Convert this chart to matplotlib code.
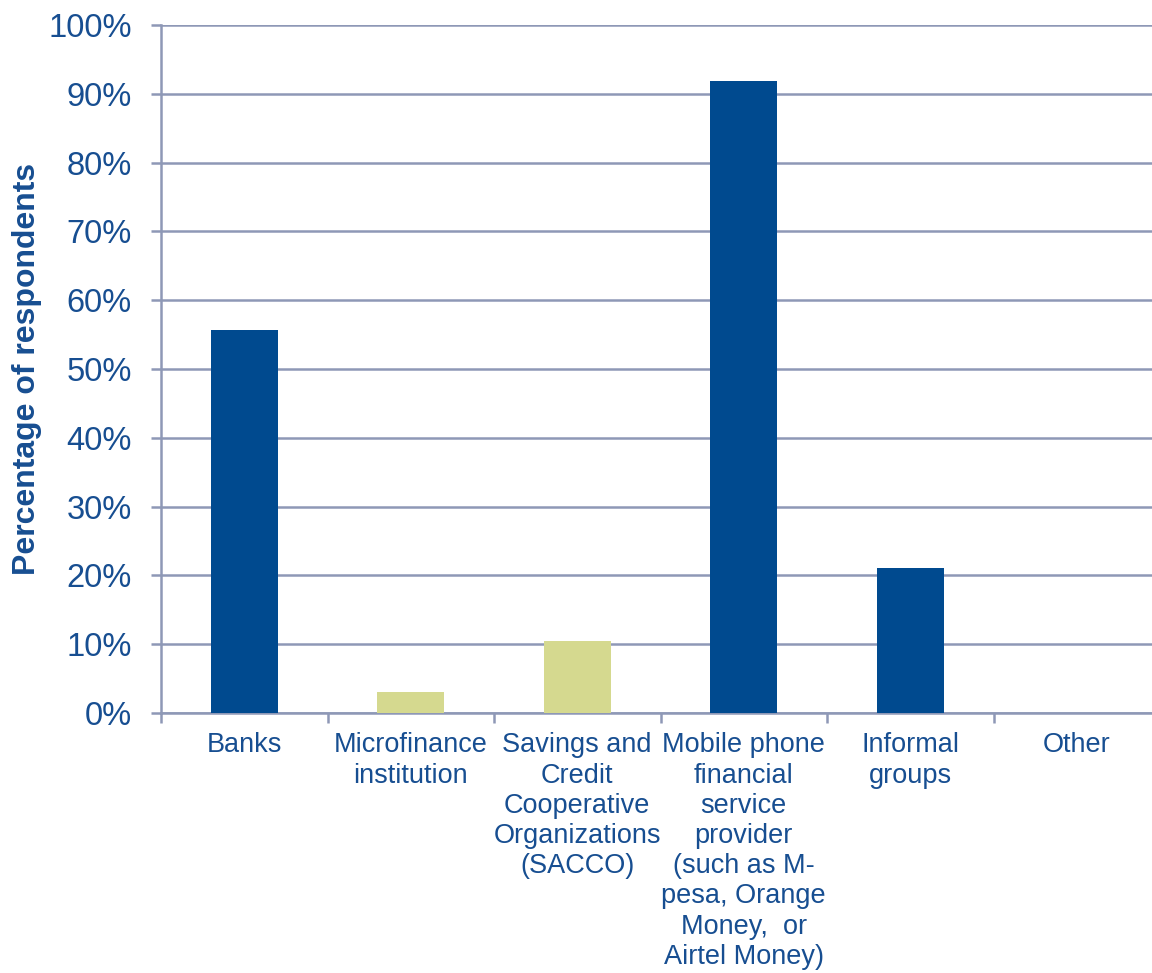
import matplotlib.pyplot as plt
import numpy as np

plt.rcParams['font.family'] = ['Liberation Sans', 'DejaVu Sans']

categories = [
    "Banks",
    "Microfinance\ninstitution",
    "Savings and\nCredit\nCooperative\nOrganizations\n(SACCO)",
    "Mobile phone\nfinancial\nservice\nprovider\n(such as M-\npesa, Orange\nMoney,  or\nAirtel Money)",
    "Informal\ngroups",
    "Other",
]
values = [55.7, 3.1, 10.5, 91.9, 21.1, 0.0]
highlight = [True, False, False, True, True, True]

NAVY = '#004A8F'
GREEN = '#D5D98F'
GRID = '#8E98B6'
TEXT = '#174E91'

fig = plt.figure(figsize=(11.52, 9.73), dpi=100)
ax = fig.add_axes([161 / 1152, 1 - 713 / 973, 999 / 1152, 688 / 973])

x = np.arange(len(categories))
colors = [NAVY if h else GREEN for h in highlight]
ax.bar(x, values, width=0.4, color=colors, zorder=3)

ax.set_xlim(-0.5, len(categories) - 0.5)
ax.set_ylim(0, 100)
ax.set_yticks(np.arange(0, 101, 10))
ax.set_yticklabels([f"{v}%" for v in range(0, 101, 10)])
ax.yaxis.grid(True, color=GRID, linewidth=1.8, zorder=0)

ax.set_xticks(x)
ax.set_xticklabels(categories, fontsize=19.5, color=TEXT, linespacing=1.21, va='top')
ax.set_xticks(np.arange(-0.5, len(categories)), minor=True)
ax.tick_params(axis='x', which='major', length=0, pad=14)
ax.tick_params(axis='x', which='minor', length=7, width=1.8, color=GRID, direction='out')
ax.tick_params(axis='y', length=7, width=1.8, color=GRID, labelsize=23.5,
               labelcolor=TEXT, pad=14)

for side in ['top', 'right']:
    ax.spines[side].set_visible(False)
for side in ['left', 'bottom']:
    ax.spines[side].set_color(GRID)
    ax.spines[side].set_linewidth(1.8)

ax.set_ylabel("Percentage of respondents", fontsize=23, fontweight='bold', color=TEXT)
ax.yaxis.set_label_coords(-0.119, 0.5)

fig.savefig("out.png", dpi=100)
